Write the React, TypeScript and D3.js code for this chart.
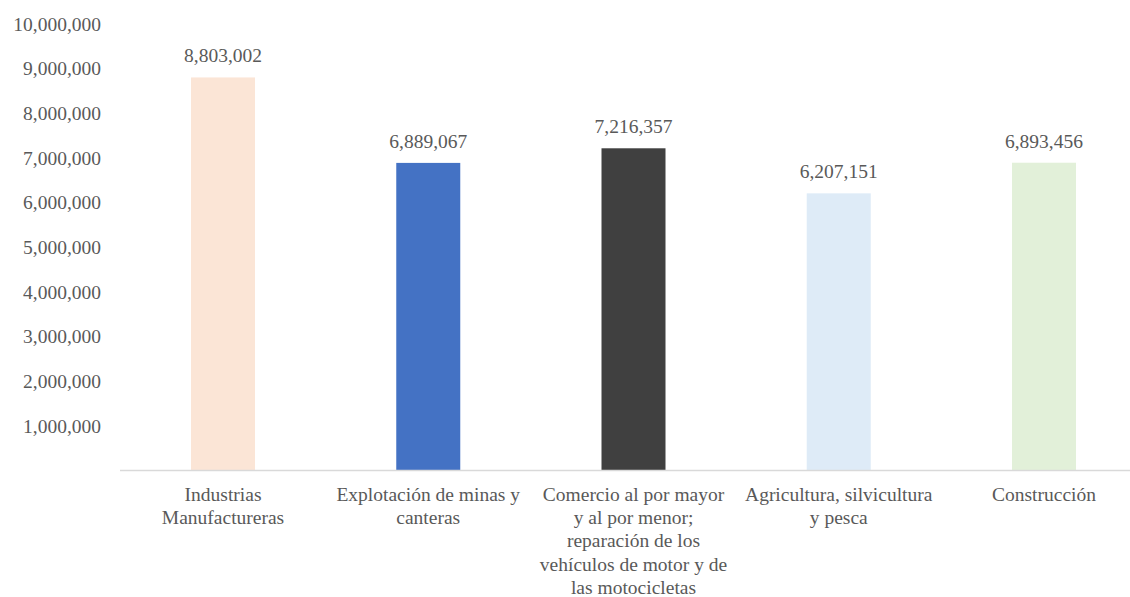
import React from "react";
import * as d3 from "d3";

const categories = [
  "Industrias\nManufactureras",
  "Explotación de minas y\ncanteras",
  "Comercio al por mayor\ny al por menor;\nreparación de los\nvehículos de motor y de\nlas motocicletas",
  "Agricultura, silvicultura\ny pesca",
  "Construcción",
];
const values = [8803002, 6889067, 7216357, 6207151, 6893456];
const colors = ["#FBE5D6", "#4472C4", "#404040", "#DEEBF7", "#E2F0D9"];
const yTicks = [1000000, 2000000, 3000000, 4000000, 5000000, 6000000, 7000000, 8000000, 9000000, 10000000];

const W = 1130;
const H = 597;
const FONT = '"Liberation Serif", "Times New Roman", serif';
const TEXT = "#595959";
const ts = { fontFamily: FONT, fontSize: "19.5px" };

export default function App() {
  const x = d3.scaleBand<number>().domain(d3.range(categories.length)).range([120.4, 1146.6]).paddingInner(0.6875).paddingOuter(0.34375);
  const y = d3.scaleLinear().domain([0, 10000000]).range([470.5, 24]);
  const fmt = d3.format(",");
  const bw = 64;
  return (
    <svg width={W} height={H} style={{ position: "absolute", left: 0, top: 0, background: "#fff" }}>
      {yTicks.map((t) => (
        <text key={t} x={101} y={y(t)} dy="0.35em" textAnchor="end" style={ts} fill={TEXT}>
          {fmt(t)}
        </text>
      ))}
      {values.map((v, i) => {
        const cx = (x(i) as number) + x.bandwidth() / 2;
        return (
          <g key={i}>
            <rect x={cx - bw / 2} y={y(v)} width={bw} height={y(0) - y(v)} fill={colors[i]} />
            <text x={cx} y={y(v) - 15} textAnchor="middle" style={ts} fill={TEXT}>
              {fmt(v)}
            </text>
          </g>
        );
      })}
      <line x1={120} x2={W} y1={470.5} y2={470.5} stroke="#D9D9D9" strokeWidth={1.3} />
      {categories.map((c, i) => {
        const cx = (x(i) as number) + x.bandwidth() / 2;
        return (
          <text key={i} x={cx} y={501} textAnchor="middle" style={ts} fill={TEXT}>
            {c.split("\n").map((l, j) => (
              <tspan key={j} x={cx} dy={j === 0 ? 0 : 23.2}>
                {l}
              </tspan>
            ))}
          </text>
        );
      })}
    </svg>
  );
}
